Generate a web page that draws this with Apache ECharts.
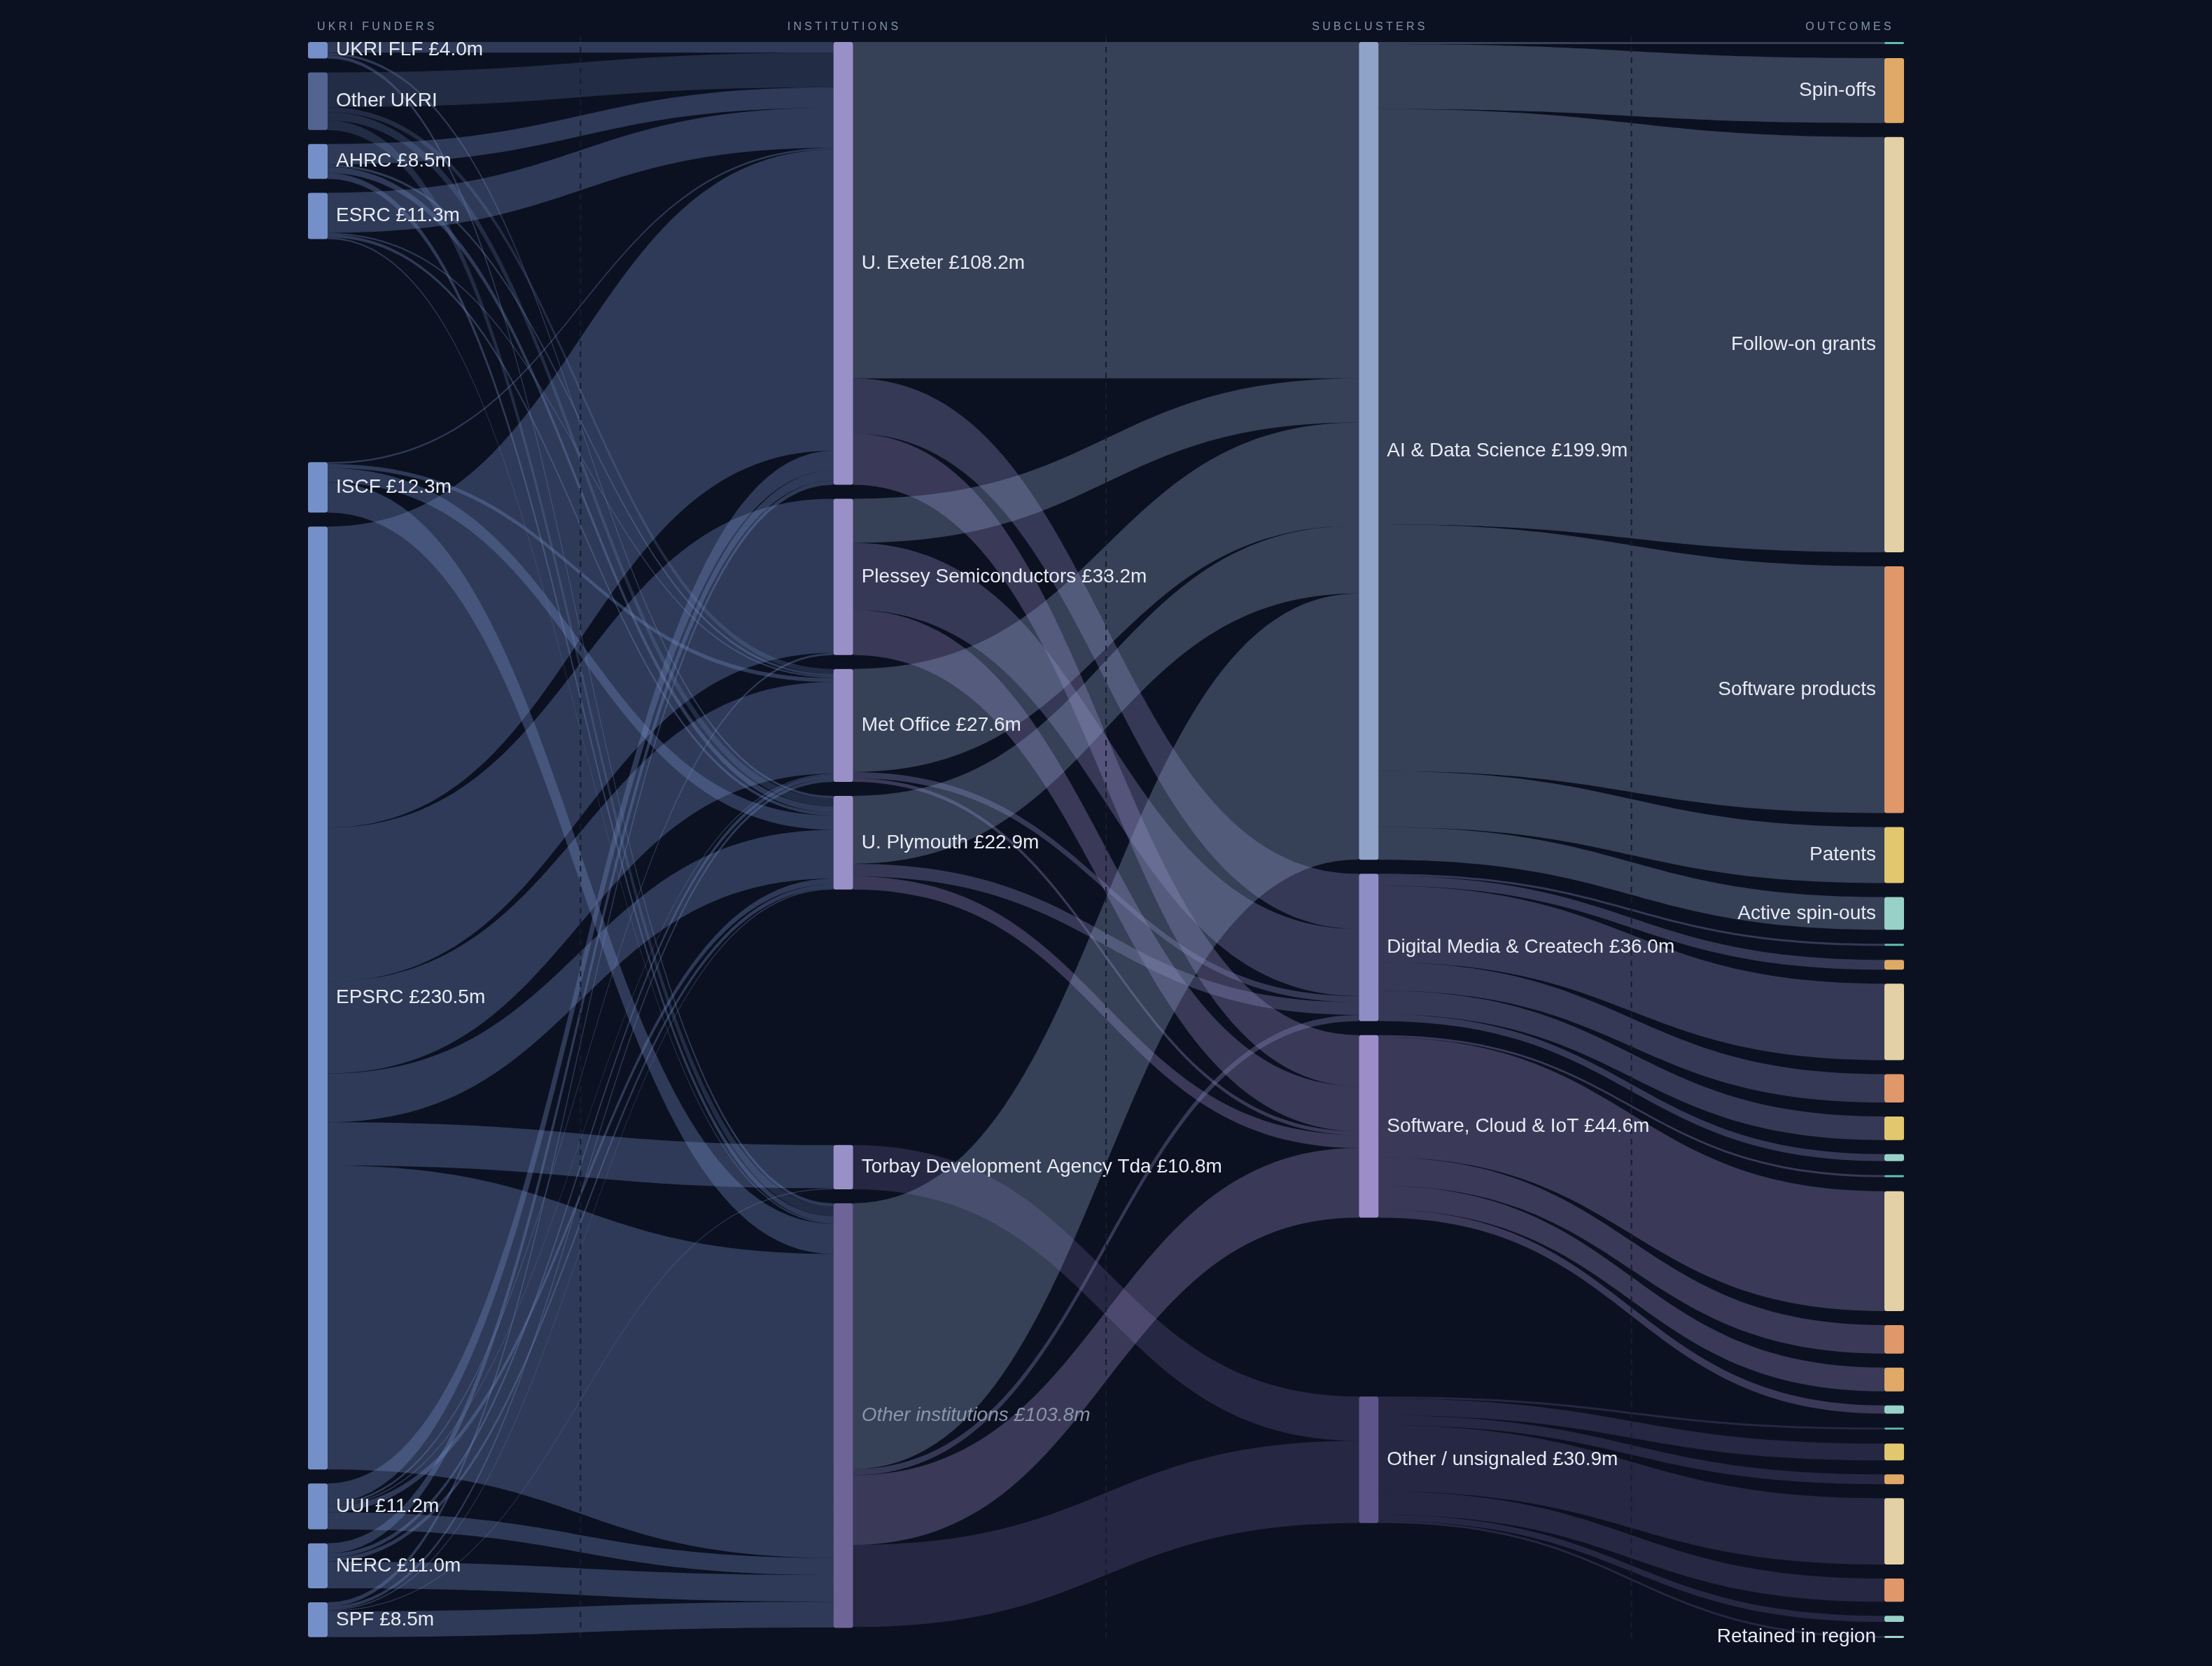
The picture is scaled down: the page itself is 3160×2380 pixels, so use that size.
<!DOCTYPE html>
<html>
<head>
<meta charset="utf-8">
<title>Funding flows: funders, institutions, subclusters, outcomes</title>
<script src="https://cdn.jsdelivr.net/npm/echarts@6/dist/echarts.min.js"></script>
<style>
  html, body { margin: 0; padding: 0; background: #0b1120; }
  #wrap { position: relative; width: 3160px; height: 2380px; }
  #chart { width: 3160px; height: 2380px; }
  .colhead {
    position: absolute; top: 29px; white-space: nowrap;
    font: 16px "Liberation Sans", Arial, sans-serif;
    letter-spacing: 4.3px; color: #8494ae;
  }
</style>
</head>
<body>
<div id="wrap">
  <div id="chart"></div>
  <div class="colhead" style="left:453px">UKRI FUNDERS</div>
  <div class="colhead" style="left:1206px; transform:translateX(-50%)">INSTITUTIONS</div>
  <div class="colhead" style="left:1957px; transform:translateX(-50%)">SUBCLUSTERS</div>
  <div class="colhead" style="right:454px">OUTCOMES</div>
</div>
<script>
// ---- data (£m) ----
const funders = ['UKRI FLF', 'Other UKRI', 'AHRC', 'ESRC', 'ISCF', 'EPSRC', 'UUI', 'NERC', 'SPF'];
const funderValues = [4.0, 14.1, 8.5, 11.3, 12.3, 230.5, 11.2, 11.0, 8.5];

const institutions = ['U. Exeter', 'Plessey Semiconductors', 'Met Office', 'U. Plymouth',
  'Torbay Development Agency Tda', 'Other institutions'];
const institutionValues = [108.2, 38.2, 27.6, 22.9, 10.8, 103.8];

const subclusters = ['AI & Data Science', 'Digital Media & Createch', 'Software, Cloud & IoT', 'Other / unsignaled'];
const subclusterValues = [199.9, 36.0, 44.6, 30.9];

// funder -> institution (columns in the order of `institutions`)
const fundingFlows = [
  [2.6, 0, 0, 0.6, 0, 0.8],
  [8.5, 0, 1.2, 2.0, 0, 2.4],
  [5.0, 0, 0.6, 1.5, 0, 1.4],
  [9.8, 0, 0.4, 0.7, 0, 0.4],
  [0.4, 0, 1.0, 3.5, 0, 7.4],
  [73.6, 37.7, 22.4, 11.9, 10.6, 74.3],
  [4.8, 0.5, 0.3, 1.4, 0, 4.2],
  [2.5, 0, 1.0, 1.0, 0, 6.5],
  [1.0, 0, 0.7, 0.3, 0.2, 6.3]
];

// institution -> subcluster (columns in the order of `subclusters`)
const clusterFlows = [
  [82.2, 13.5, 12.5, 0],
  [10.8, 16.4, 11.0, 0],
  [25.2, 1.5, 0.9, 0],
  [16.6, 3.1, 3.2, 0],
  [0, 0, 0, 10.8],
  [65.0, 1.5, 17.0, 20.1]
];

// outcomes of each subcluster, top to bottom
const aiOutcomes = ['Other outcomes', 'Spin-offs', 'Follow-on grants', 'Software products', 'Patents', 'Active spin-outs'];
const aiOutcomeValues = [0.5, 15.9, 101.5, 60.3, 13.7, 8.0];
const dmOutcomes = ['Other outcomes', 'Spin-offs', 'Follow-on grants', 'Software products', 'Patents', 'Active spin-outs'];
const dmOutcomeValues = [0.5, 2.4, 18.7, 6.9, 5.8, 1.7];
const swOutcomes = ['Other outcomes', 'Follow-on grants', 'Software products', 'Spin-offs', 'Active spin-outs'];
const swOutcomeValues = [0.5, 29.3, 7.0, 5.8, 2.0];
const ouOutcomes = ['Other outcomes', 'Patents', 'Spin-offs', 'Follow-on grants', 'Software products', 'Active spin-outs', 'Retained in region'];
const ouOutcomeValues = [0.5, 4.1, 2.4, 16.2, 5.7, 1.5, 0.5];

// ---- layout / style ----
const LEFT = 440, RIGHT = 440, TOP = 60, BOTTOM = 40, NODE_W = 28;
// empty room kept inside a column: [column, insert after index, size in £m]
const columnGaps = [[0, 3, 47.7], [1, 3, 55.6], [2, 2, 36.9]];

const outcomeColors = {
  'Other outcomes': '#5fbfae',
  'Spin-offs': '#e0a967',
  'Follow-on grants': '#e3d0a5',
  'Software products': '#e0976a',
  'Patents': '#e2c76f',
  'Active spin-outs': '#98d1c8',
  'Retained in region': '#a2d4c9'
};
const clusterColors = ['#8fa2c8', '#8f8dc6', '#9c8cc8', '#5d5489'];
const labelFont = '"Liberation Sans", Arial, sans-serif';
const fmt = v => '£' + v.toFixed(1) + 'm';

const nodes = [];
const links = [];

function addGap(depth, idx) {
  columnGaps.forEach(function (g, i) {
    if (g[0] === depth && g[1] === idx) {
      nodes.push({
        name: '__gap' + i, depth: depth, value: g[2],
        itemStyle: { color: 'rgba(0,0,0,0)' }, label: { show: false }
      });
    }
  });
}

// funders
funders.forEach(function (f, i) {
  nodes.push({
    name: f, depth: 0, value: funderValues[i],
    itemStyle: { color: f === 'Other UKRI' ? '#52648f' : '#7590c8' },
    label: { formatter: f === 'Other UKRI' ? f : f + ' ' + fmt(funderValues[i]) }
  });
  addGap(0, i);
});

// institutions
institutions.forEach(function (inst, i) {
  const other = inst === 'Other institutions';
  nodes.push({
    name: inst, depth: 1, value: institutionValues[i],
    itemStyle: { color: other ? '#6f6497' : '#9a90c8' },
    label: {
      formatter: inst + ' ' + fmt(institutionValues[i]),
      fontStyle: other ? 'italic' : 'normal',
      color: other ? '#8b95aa' : '#e6eaf2'
    }
  });
  addGap(1, i);
});

// subclusters
subclusters.forEach(function (s, i) {
  nodes.push({
    name: s, depth: 2, value: subclusterValues[i],
    itemStyle: { color: clusterColors[i] },
    label: { formatter: s + ' ' + fmt(subclusterValues[i]) }
  });
  addGap(2, i);
});

// outcomes
const outcomeSets = [
  [aiOutcomes, aiOutcomeValues],
  [dmOutcomes, dmOutcomeValues],
  [swOutcomes, swOutcomeValues],
  [ouOutcomes, ouOutcomeValues]
];
outcomeSets.forEach(function (set, si) {
  set[0].forEach(function (o, j) {
    const id = subclusters[si] + ' → ' + o;
    const showLabel = (si === 0 && o !== 'Other outcomes') || o === 'Retained in region';
    nodes.push({
      name: id, depth: 3, value: set[1][j],
      itemStyle: { color: outcomeColors[o] },
      label: { show: showLabel, position: 'left', formatter: o }
    });
    links.push({ source: subclusters[si], target: id, value: set[1][j] });
  });
});

fundingFlows.forEach(function (row, i) {
  row.forEach(function (v, j) {
    if (v > 0) links.push({ source: funders[i], target: institutions[j], value: v });
  });
});
clusterFlows.forEach(function (row, i) {
  row.forEach(function (v, j) {
    if (v > 0) links.push({
      source: institutions[i], target: subclusters[j], value: v,
      lineStyle: { color: 'target' }
    });
  });
});

// faint dashed guides between the columns
const step = (3160 - LEFT - RIGHT - NODE_W) / 3;
const guides = [0, 1, 2].map(function (k) {
  const x = LEFT + NODE_W / 2 + (k + 0.5) * step;
  return {
    type: 'line', silent: true, z: 100,
    shape: { x1: x, y1: 52, x2: x, y2: 2340 },
    style: { stroke: '#161e2f', lineWidth: 2, lineDash: [8, 7] }
  };
});

const chart = echarts.init(document.getElementById('chart'));
chart.setOption({
  backgroundColor: '#0b1120',
  animation: false,
  graphic: guides,
  series: [{
    type: 'sankey',
    left: LEFT, right: RIGHT, top: TOP, bottom: BOTTOM,
    nodeWidth: NODE_W,
    nodeGap: 20,
    layoutIterations: 0,
    draggable: false,
    emphasis: { disabled: true },
    itemStyle: { borderWidth: 0, borderRadius: 3 },
    label: {
      show: true, position: 'right', distance: 12,
      color: '#e6eaf2', fontSize: 28, fontFamily: labelFont
    },
    lineStyle: { color: 'source', opacity: 0.33, curveness: 0.5 },
    data: nodes,
    links: links
  }]
});
</script>
</body>
</html>
